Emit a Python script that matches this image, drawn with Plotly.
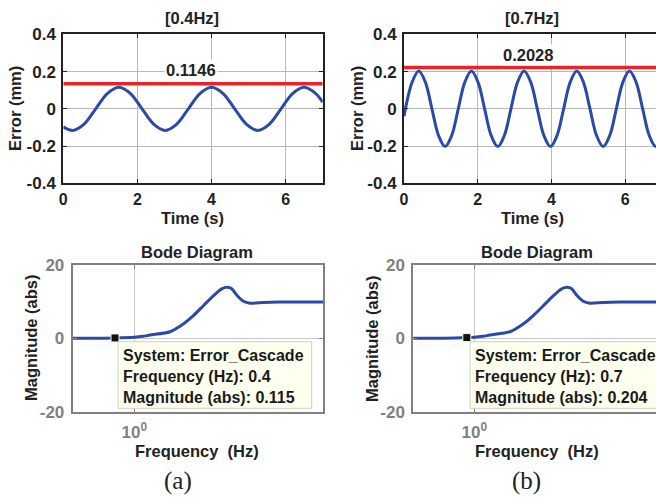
import plotly.graph_objects as go

W, H = 656, 501

# ---------------- data ----------------
# (a) 0.4 Hz tracking error (s, mm)
t_a = [0, 0.25, 0.5625, 0.875, 1.1875, 1.5, 1.8125, 2.125, 2.4375, 2.75, 3.0625,
       3.375, 3.6875, 4.0, 4.3125, 4.625, 4.9375, 5.25, 5.5625, 5.875, 6.1875,
       6.5, 6.8125, 7.0]
err_a = [-0.097, -0.116, -0.082, 0.0, 0.082, 0.116, 0.082, 0.0, -0.082, -0.116,
         -0.082, 0.0, 0.082, 0.116, 0.082, 0.0, -0.082, -0.116, -0.082, 0.0,
         0.082, 0.116, 0.082, 0.036]
# (b) 0.7 Hz tracking error (s, mm)
t_b = [0, 0.221, 0.40, 0.579, 0.757, 0.936, 1.114, 1.293, 1.471, 1.650, 1.829,
       2.007, 2.186, 2.364, 2.543, 2.721, 2.900, 3.079, 3.257, 3.436, 3.614,
       3.793, 3.971, 4.150, 4.329, 4.507, 4.686, 4.864, 5.043, 5.221, 5.400,
       5.579, 5.757, 5.936, 6.114, 6.293, 6.471, 6.650, 6.829, 7.0]
err_b = [-0.04, 0.1435, 0.203, 0.1435, 0.0, -0.1435, -0.203, -0.1435, 0.0,
         0.1435, 0.203, 0.1435, 0.0, -0.1435, -0.203, -0.1435, 0.0, 0.1435,
         0.203, 0.1435, 0.0, -0.1435, -0.203, -0.1435, 0.0, 0.1435, 0.203,
         0.1435, 0.0, -0.1435, -0.203, -0.1435, 0.0, 0.1435, 0.203, 0.1435,
         0.0, -0.1435, -0.203, -0.149]
# red amplitude lines
thr_t = [0, 7]
thr_a = [0.134, 0.134]
thr_b = [0.222, 0.222]
thr_label_a = "0.1146"
thr_label_b = "0.2028"
thr_label_pos_a = (3.44, 0.211)
thr_label_pos_b = (3.36, 0.29)

# Bode magnitude of Error_Cascade (Hz, abs)
freq = [0.05, 0.4, 1.0, 1.5, 2.11, 5.45, 10.2, 16.5, 26.5, 42.6, 63.5, 83, 102,
        133, 177, 243, 457, 1000, 8000]
mag = [0.02, 0.115, 0.3, 0.55, 0.9, 1.8, 3.9, 6.2, 8.9, 11.6, 13.5, 13.9, 13.5,
       11.6, 10.1, 9.6, 9.8, 9.9, 9.9]

# data tips
tip_f_a, tip_m_a = [0.4], [0.115]
tip_f_b, tip_m_b = [0.7], [0.204]
tip_text_a = ["System: Error_Cascade", "Frequency (Hz): 0.4", "Magnitude (abs): 0.115"]
tip_text_b = ["System: Error_Cascade", "Frequency (Hz): 0.7", "Magnitude (abs): 0.204"]

# ticks
time_ticks = [0, 2, 4, 6]
time_ticktext = ["0", "2", "4", "6"]
err_ticks = [-0.4, -0.2, 0, 0.2, 0.4]
err_ticktext = ["-0.4", "-0.2", "0", "0.2", "0.4"]
mag_ticks = [-20, 0, 20]
mag_ticktext = ["-20", "0", "20"]
freq_ticks = [1]
freq_ticktext = ["10<sup>0</sup>"]

# ---------------- styling ----------------
FONT = "Liberation Sans"
BLUE = "#2b4aa6"
RED = "#ea2328"
DARK = "#222222"
GRAY = "#808080"
GRID = "#b8b8b8"


def px(x):
    return x / W


def py(y):
    return 1 - y / H


fig = go.Figure()

fig.add_trace(go.Scatter(x=t_a, y=err_a, xaxis="x", yaxis="y", mode="lines",
                         line=dict(color=BLUE, width=3, shape="spline", smoothing=1)))
fig.add_trace(go.Scatter(x=thr_t, y=thr_a, xaxis="x", yaxis="y", mode="lines",
                         line=dict(color=RED, width=3.5)))
fig.add_trace(go.Scatter(x=t_b, y=err_b, xaxis="x2", yaxis="y2", mode="lines",
                         line=dict(color=BLUE, width=3, shape="spline", smoothing=1)))
fig.add_trace(go.Scatter(x=thr_t, y=thr_b, xaxis="x2", yaxis="y2", mode="lines",
                         line=dict(color=RED, width=3.5)))
fig.add_trace(go.Scatter(x=freq, y=mag, xaxis="x3", yaxis="y3", mode="lines",
                         line=dict(color=BLUE, width=3, shape="spline", smoothing=0.8)))
fig.add_trace(go.Scatter(x=freq, y=mag, xaxis="x4", yaxis="y4", mode="lines",
                         line=dict(color=BLUE, width=3, shape="spline", smoothing=0.8)))
for xf, ym, xa, ya in [(tip_f_a, tip_m_a, "x3", "y3"), (tip_f_b, tip_m_b, "x4", "y4")]:
    fig.add_trace(go.Scatter(x=xf, y=ym, xaxis=xa, yaxis=ya, mode="markers",
                             marker=dict(symbol="square", size=8, color="#111111",
                                         line=dict(color="#ffffcc", width=1))))

tickfont_dark = dict(family=FONT, size=17, color=DARK, weight="bold")
tickfont_dark_x = dict(family=FONT, size=16, color=DARK, weight="bold")
tickfont_gray = dict(family=FONT, size=17, color=GRAY, weight="bold")


def top_x(domain, rng):
    return dict(domain=domain, range=rng, tickvals=time_ticks, ticktext=time_ticktext,
                ticks="inside", ticklen=4, tickcolor=DARK, showline=True, linecolor=DARK,
                linewidth=2, mirror="allticks", showgrid=True, gridcolor=GRID, gridwidth=1,
                zeroline=False, tickfont=tickfont_dark_x, ticklabelstandoff=0)


def top_y(domain, anchor, mirror):
    return dict(domain=domain, anchor=anchor, range=[-0.4, 0.4], tickvals=err_ticks,
                ticktext=err_ticktext, ticks="inside", ticklen=4, tickcolor=DARK,
                showline=True, linecolor=DARK, linewidth=2, mirror=mirror,
                showgrid=True, gridcolor=GRID, gridwidth=1, zeroline=False,
                tickfont=tickfont_dark, ticklabelstandoff=2)


def bot_x(domain, rng):
    return dict(domain=domain, type="log", range=rng, tickvals=freq_ticks,
                ticktext=freq_ticktext, ticks="inside", ticklen=4, tickcolor=GRAY,
                showline=True, linecolor=GRAY, linewidth=2, mirror="allticks",
                showgrid=True, gridcolor="#c8c8c8", gridwidth=1, zeroline=False,
                tickfont=tickfont_gray, ticklabelstandoff=4)


def bot_y(domain, anchor, mirror):
    return dict(domain=domain, anchor=anchor, range=[-20, 20], tickvals=mag_ticks,
                ticktext=mag_ticktext, ticks="inside", ticklen=4, tickcolor=GRAY,
                showline=True, linecolor=GRAY, linewidth=2, mirror=mirror,
                showgrid=True, gridcolor="#c8c8c8", gridwidth=1, zeroline=False,
                tickfont=tickfont_gray, ticklabelstandoff=3)


top_dom_y = [py(183.3), py(34.3)]
bot_dom_y = [py(411.7), py(265)]

fig.update_layout(
    width=W, height=H, margin=dict(l=0, r=0, t=0, b=0),
    template="none", paper_bgcolor="white", plot_bgcolor="white", showlegend=False,
    xaxis=dict(top_x([px(63.3), px(322.7)], [0, 7]), anchor="y"),
    yaxis=top_y(top_dom_y, "x", "allticks"),
    xaxis2=dict(top_x([px(404), 1.0], [0, 6.833]), anchor="y2"),
    yaxis2=top_y(top_dom_y, "x2", False),
    xaxis3=dict(bot_x([px(72.7), px(323)], [-1.27, 3.89]), anchor="y3"),
    yaxis3=bot_y(bot_dom_y, "x3", "allticks"),
    xaxis4=dict(bot_x([px(413.3), 1.0], [-1.26, 3.75]), anchor="y4"),
    yaxis4=bot_y(bot_dom_y, "x4", False),
)

ann = []


def label(text, x, y, size=16.5, angle=0, color=DARK, bold=True, family=FONT):
    ann.append(dict(text=text, x=px(x), y=py(y), xref="paper", yref="paper",
                    showarrow=False, textangle=angle, xanchor="center", yanchor="middle",
                    font=dict(family=family, size=size, color=color,
                              weight="bold" if bold else "normal")))


label("[0.4Hz]", 192, 18)
label("[0.7Hz]", 532, 18)
label("Time (s)", 192, 218)
label("Time (s)", 532, 218)
label("Error (mm)", 15, 109, angle=-90)
label("Error (mm)", 357, 109, angle=-90)
label("Bode Diagram", 197, 252)
label("Bode Diagram", 537, 252)
label("Magnitude (abs)", 31, 338, angle=-90)
label("Magnitude (abs)", 372, 338, angle=-90)
label("Frequency  (Hz)", 197, 451)
label("Frequency  (Hz)", 537, 451)
label("(a)", 178, 481, size=25, bold=False, family="Liberation Serif", color="#222222")
label("(b)", 526, 481, size=25, bold=False, family="Liberation Serif", color="#222222")

# amplitude labels (white background over grid)
for txt, pos, xr, yr in [(thr_label_a, thr_label_pos_a, "x", "y"),
                         (thr_label_b, thr_label_pos_b, "x2", "y2")]:
    ann.append(dict(text=txt, x=pos[0], y=pos[1], xref=xr, yref=yr, showarrow=False,
                    bgcolor="white", borderpad=1,
                    font=dict(family=FONT, size=16.5, color=DARK, weight="bold")))

# data tip text
for lines, x0, yc in [(tip_text_a, 121, 376), (tip_text_b, 473, 376)]:
    ann.append(dict(text="<br>".join(lines), x=px(x0), y=py(yc), xref="paper",
                    yref="paper", showarrow=False, xanchor="left", yanchor="middle",
                    align="left",
                    font=dict(family=FONT, size=16, color="#1a1a1a", weight="bold")))

fig.update_layout(annotations=ann)

shapes = []
for x0, x1 in [(118, 311.7), (470, 700)]:
    shapes.append(dict(type="rect", xref="paper", yref="paper",
                       x0=px(x0), x1=px(x1), y0=py(408.3), y1=py(341.7),
                       fillcolor="#fffff0", line=dict(color="#cfcfc0", width=1),
                       layer="above"))
fig.update_layout(shapes=shapes)

fig.write_html("out.html")
